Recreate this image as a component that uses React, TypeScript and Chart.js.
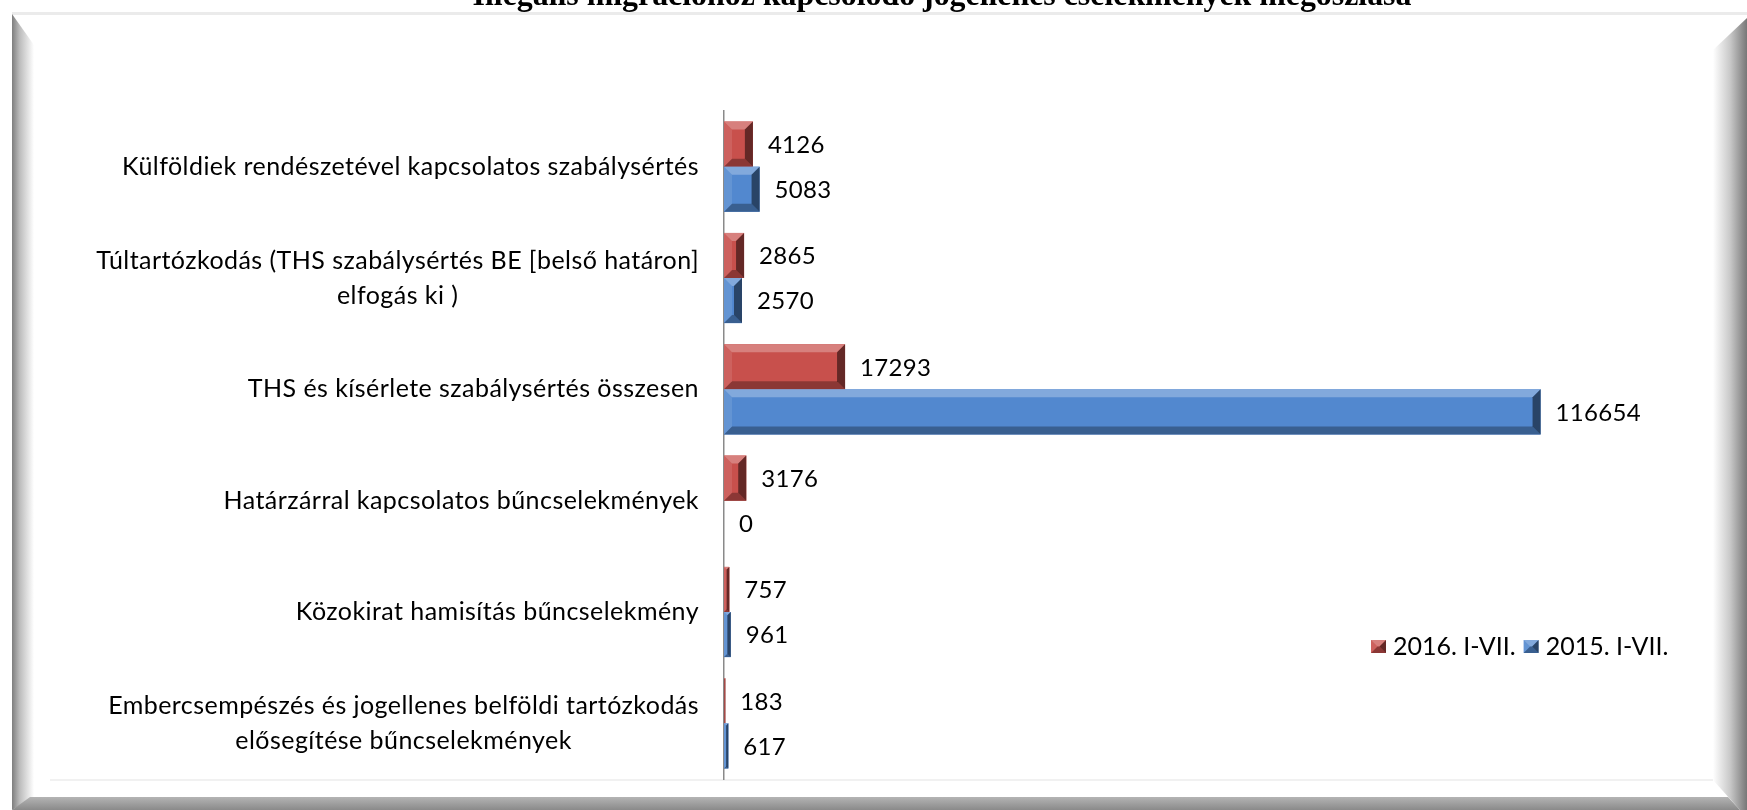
import { useEffect, useRef } from "react";
import { Chart, registerables } from "chart.js";

Chart.register(...registerables);

const TITLE = "Illegális migrációhoz kapcsolódó jogellenes cselekmények megoszlása";

const categories: string[][] = [
  ["Külföldiek rendészetével kapcsolatos szabálysértés"],
  ["Túltartózkodás (THS szabálysértés BE [belső határon]", "elfogás ki )"],
  ["THS és kísérlete szabálysértés összesen"],
  ["Határzárral kapcsolatos bűncselekmények"],
  ["Közokirat hamisítás bűncselekmény"],
  ["Embercsempészés és jogellenes belföldi tartózkodás", "elősegítése bűncselekmények"],
];

const seriesNames = ["2016. I-VII.", "2015. I-VII."];
const values2016 = [4126, 2865, 17293, 3176, 757, 183];
const values2015 = [5083, 2570, 116654, 0, 961, 617];
const xMax = 120000;

const RED = "#C8504C";
const BLUE = "#5288CF";

const W = 1747;
const H = 810;

function bevel(ctx: CanvasRenderingContext2D, l: number, t: number, r: number, b: number, color: string) {
  const w = r - l;
  const h = b - t;
  if (w <= 0 || h <= 0) return;
  const d = Math.min(8, w / 2, h / 2);
  ctx.save();
  ctx.fillStyle = color;
  ctx.fillRect(l, t, w, h);
  const poly = (pts: number[][], fill: string) => {
    ctx.beginPath();
    ctx.moveTo(pts[0][0], pts[0][1]);
    for (let i = 1; i < pts.length; i++) ctx.lineTo(pts[i][0], pts[i][1]);
    ctx.closePath();
    ctx.fillStyle = fill;
    ctx.fill();
  };
  poly([[l, t], [r, t], [r - d, t + d], [l + d, t + d]], "rgba(255,255,255,0.28)");
  poly([[l, b], [r, b], [r - d, b - d], [l + d, b - d]], "rgba(0,0,0,0.30)");
  poly([[l, t], [l + d, t + d], [l + d, b - d], [l, b]], "rgba(255,255,255,0.10)");
  poly([[r, t], [r - d, t + d], [r - d, b - d], [r, b]], "rgba(0,0,0,0.50)");
  ctx.restore();
}

const framePlugin = {
  id: "frame",
  beforeDraw(chart: any) {
    const ctx: CanvasRenderingContext2D = chart.ctx;
    ctx.save();
    ctx.fillStyle = "#ffffff";
    ctx.fillRect(0, 0, W, H);

    // title (cut off at the top)
    ctx.font = 'bold 100px "Liberation Serif"';
    const tw = ctx.measureText(TITLE).width;
    const size = (100 * 939) / tw;
    ctx.font = `bold ${size}px "Liberation Serif"`;
    ctx.fillStyle = "#000";
    ctx.textAlign = "center";
    ctx.textBaseline = "alphabetic";
    ctx.fillText(TITLE, 942, 5);

    // top edge
    ctx.fillStyle = "#ebebeb";
    ctx.fillRect(12, 12, W - 12, 3);

    // inner bottom light line
    ctx.fillStyle = "#f1f1f1";
    ctx.fillRect(50, 779, 1663, 2);

    // left bevel
    let g = ctx.createLinearGradient(12, 0, 34, 0);
    g.addColorStop(0, "#7e7e7e");
    g.addColorStop(0.35, "#bcbcbc");
    g.addColorStop(1, "#ffffff");
    ctx.fillStyle = g;
    ctx.beginPath();
    ctx.moveTo(12, 14);
    ctx.lineTo(34, 45);
    ctx.lineTo(34, 797);
    ctx.lineTo(12, 810);
    ctx.closePath();
    ctx.fill();

    // right bevel
    g = ctx.createLinearGradient(1713, 0, 1747, 0);
    g.addColorStop(0, "#ffffff");
    g.addColorStop(0.5, "#c9c9c9");
    g.addColorStop(1, "#777777");
    ctx.fillStyle = g;
    ctx.beginPath();
    ctx.moveTo(1747, 18);
    ctx.lineTo(1713, 50);
    ctx.lineTo(1713, 780);
    ctx.lineTo(1740, 810);
    ctx.lineTo(1747, 810);
    ctx.closePath();
    ctx.fill();

    // bottom bevel
    g = ctx.createLinearGradient(0, 797, 0, 810);
    g.addColorStop(0, "#b4b4b4");
    g.addColorStop(1, "#8a8a8a");
    ctx.fillStyle = g;
    ctx.beginPath();
    ctx.moveTo(12, 810);
    ctx.lineTo(30, 797);
    ctx.lineTo(1728, 797);
    ctx.lineTo(1740, 810);
    ctx.closePath();
    ctx.fill();
    ctx.restore();
  },
  afterDatasetsDraw(chart: any) {
    const ctx: CanvasRenderingContext2D = chart.ctx;
    ctx.save();
    chart.data.datasets.forEach((ds: any, di: number) => {
      const meta = chart.getDatasetMeta(di);
      meta.data.forEach((el: any) => {
        const p = el.getProps(["x", "y", "base", "height"], true);
        const l = Math.min(p.base, p.x);
        const r = Math.max(p.base, p.x);
        bevel(ctx, l, p.y - p.height / 2, r, p.y + p.height / 2, ds.backgroundColor);
      });
    });
    // data labels
    ctx.font = '24px "Lato"';
    (ctx as any).letterSpacing = "0.3px";
    ctx.fillStyle = "#000";
    ctx.textAlign = "left";
    ctx.textBaseline = "middle";
    chart.data.datasets.forEach((ds: any, di: number) => {
      const meta = chart.getDatasetMeta(di);
      meta.data.forEach((el: any, i: number) => {
        const p = el.getProps(["x", "y"], true);
        ctx.fillText(String(ds.data[i]), p.x + 15, p.y + 1);
      });
    });

    // category labels
    const ys = chart.scales.y;
    ctx.font = '25px "Lato"';
    (ctx as any).letterSpacing = "0.45px";
    ctx.textAlign = "center";
    categories.forEach((lines, i) => {
      const cy = ys.getPixelForTick(i);
      let widest = 0;
      lines.forEach((ln) => (widest = Math.max(widest, ctx.measureText(ln).width)));
      const right = chart.chartArea.left - 25;
      lines.forEach((ln, j) => {
        const ly = cy + (j - (lines.length - 1) / 2) * 35;
        ctx.fillText(ln, right - widest / 2, ly);
      });
    });

    // legend
    ctx.font = '25px "Lato"';
    (ctx as any).letterSpacing = "0px";
    ctx.textAlign = "left";
    let x = 1371;
    const ly = 647;
    chart.data.datasets.forEach((ds: any) => {
      bevel(ctx, x, ly - 7, x + 15, ly + 6, ds.backgroundColor);
      ctx.fillStyle = "#000";
      ctx.fillText(ds.label, x + 22, ly);
      x += 22 + ctx.measureText(ds.label).width + 8;
    });
    ctx.restore();
  },
};

export default function App() {
  const ref = useRef<HTMLCanvasElement>(null);
  useEffect(() => {
    document.body.style.margin = "0";
    const chart = new Chart(ref.current as HTMLCanvasElement, {
      type: "bar",
      data: {
        labels: categories,
        datasets: [
          { label: seriesNames[0], data: values2016, backgroundColor: RED, borderWidth: 0 },
          { label: seriesNames[1], data: values2015, backgroundColor: BLUE, borderWidth: 0 },
        ],
      },
      options: {
        indexAxis: "y",
        animation: false,
        responsive: true,
        maintainAspectRatio: false,
        layout: { padding: { left: 0, top: 111, right: 183, bottom: 31 } },
        datasets: { bar: { categoryPercentage: 0.81, barPercentage: 1 } },
        scales: {
          x: { display: false, min: 0, max: xMax },
          y: {
            display: true,
            ticks: { display: false },
            grid: { display: false },
            border: { display: true, color: "#8a8a8a", width: 1.5 },
            afterFit: (s: any) => {
              s.width = 724;
            },
          },
        },
        plugins: {
          legend: { display: false },
          tooltip: { enabled: false },
          title: { display: false },
        },
      },
      plugins: [framePlugin],
    });
    return () => chart.destroy();
  }, []);
  return (
    <div style={{ position: "absolute", left: 0, top: 0, width: W, height: H }}>
      <canvas ref={ref} />
    </div>
  );
}
